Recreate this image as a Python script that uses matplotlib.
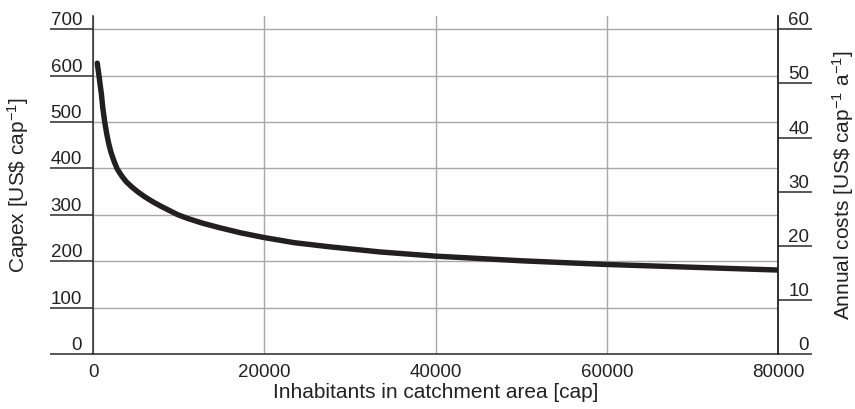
import matplotlib
matplotlib.use("Agg")
import matplotlib.pyplot as plt

# Data
inhabitants = [500, 600, 700, 830, 970, 1150, 1370, 1600, 1830, 2100, 2410,
               2800, 3100, 3430, 3900, 4480, 5200, 6040, 7000, 7990,
               9930, 11100, 12800, 14840, 17300, 20000, 23500, 27690, 33530,
               40000, 50000, 60000, 70000, 80000]
capex = [627, 613, 600, 581, 562, 530, 500, 475, 454, 435, 418,
         400, 391, 382, 371, 361, 350, 339, 328, 318,
         300, 292, 282, 272, 261, 251, 240, 231, 220,
         211, 201, 193, 187, 181]

left_ticks = [0, 100, 200, 300, 400, 500, 600, 700]
right_ticks = [0, 10, 20, 30, 40, 50, 60]
x_ticks = [0, 20000, 40000, 60000, 80000]
x_tick_labels = ["0", "20000", "40000", "60000", "80000"]

plt.rcParams['font.family'] = ['Liberation Sans', 'DejaVu Sans']
plt.rcParams['mathtext.fontset'] = 'custom'
plt.rcParams['mathtext.rm'] = 'Liberation Sans'
plt.rcParams['mathtext.it'] = 'Liberation Sans:italic'
plt.rcParams['mathtext.bf'] = 'Liberation Sans:bold'

W, H = 855, 409
dpi = 100
fig = plt.figure(figsize=(W / dpi, H / dpi), dpi=dpi)
L, R, T, B = 93, 778, 16, 354
ax = fig.add_axes([L / W, (H - B) / H, (R - L) / W, (B - T) / H])

ymax = 728.7
ax.set_xlim(0, 80000)
ax.set_ylim(0, ymax)

grid_col = '#a8a8a8'
dark = '#2a2a2a'
txt = '#222222'
fs = 13.5
lfs = 15

ax.plot(inhabitants, capex, color='#231f20', lw=3.9, solid_capstyle='round',
        solid_joinstyle='round', zorder=5)

ax.set_xticks(x_ticks)
ax.set_xticklabels(x_tick_labels, fontsize=fs, color=txt)
ax.set_yticks(left_ticks)
ax.set_yticklabels([])
ax.grid(True, color=grid_col, lw=1.0)
ax.set_axisbelow(True)

ax.spines['top'].set_visible(False)
for s in ['left', 'right', 'bottom']:
    ax.spines[s].set_color(dark)
    ax.spines[s].set_linewidth(1.1)

ax.tick_params(axis='x', length=0, pad=7)
ax.tick_params(axis='y', length=31, width=1.1, color=dark, direction='out')

for v in left_ticks:
    ax.annotate(str(v), xy=(0, v), xycoords=ax.get_yaxis_transform(),
                xytext=(-11, 4), textcoords='offset pixels',
                ha='right', va='baseline', fontsize=fs, color=txt,
                annotation_clip=False)

ax2 = ax.twinx()
ax2.set_ylim(0, ymax * 60 / 700)
ax2.set_yticks(right_ticks)
ax2.set_yticklabels([])
ax2.tick_params(axis='y', length=24.5, width=1.1, color=dark, direction='out')
for s in ['top', 'left', 'bottom']:
    ax2.spines[s].set_visible(False)
ax2.spines['right'].set_color(dark)
ax2.spines['right'].set_linewidth(1.1)
for v in right_ticks:
    ax2.annotate(str(v), xy=(1, v), xycoords=ax2.get_yaxis_transform(),
                 xytext=(31, 4), textcoords='offset pixels',
                 ha='right', va='baseline', fontsize=fs, color=txt,
                 annotation_clip=False)

yc = (H - (T + B) / 2) / H
fig.text(18 / W, yc, r'Capex [US\$ cap$^{-1}$]', rotation=90,
         ha='center', va='center', fontsize=lfs, color=txt)
fig.text(843 / W, yc, r'Annual costs [US\$ cap$^{-1}$ a$^{-1}$]', rotation=90,
         ha='center', va='center', fontsize=lfs, color=txt)
fig.text(((L + R) / 2) / W, (H - 393) / H, 'Inhabitants in catchment area [cap]',
         ha='center', va='center', fontsize=lfs, color=txt)

fig.savefig('out.png', dpi=dpi)
